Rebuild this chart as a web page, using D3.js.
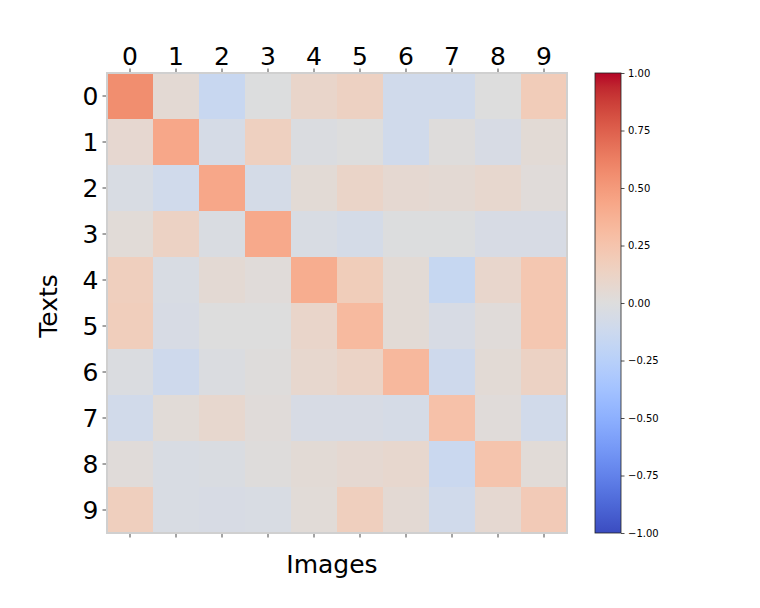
<!DOCTYPE html>
<html>
<head>
<meta charset="utf-8">
<script src="https://cdn.jsdelivr.net/npm/d3@7"></script>
<style>
  html, body { margin: 0; padding: 0; background: #fff; }
  svg { display: block; font-family: "DejaVu Sans", sans-serif; }
</style>
</head>
<body>
<svg id="chart" width="760" height="608"></svg>
<script>
// ---- data ----
const images = ["0","1","2","3","4","5","6","7","8","9"];
const texts  = ["0","1","2","3","4","5","6","7","8","9"];
const row0 = [ 0.56,  0.05, -0.15, -0.01,  0.10,  0.14, -0.10, -0.10,  0.00,  0.19];
const row1 = [ 0.07,  0.43, -0.06,  0.15, -0.02,  0.00, -0.10,  0.01, -0.05,  0.04];
const row2 = [-0.04, -0.10,  0.43, -0.07,  0.04,  0.11,  0.06,  0.05,  0.08,  0.02];
const row3 = [ 0.03,  0.13, -0.03,  0.42, -0.04, -0.07, -0.01, -0.01, -0.05, -0.05];
const row4 = [ 0.16, -0.04,  0.05,  0.02,  0.40,  0.18,  0.04, -0.16,  0.09,  0.23];
const row5 = [ 0.17, -0.05,  0.00,  0.00,  0.10,  0.32,  0.04, -0.05,  0.02,  0.23];
const row6 = [-0.02, -0.11, -0.02,  0.01,  0.08,  0.12,  0.33, -0.11,  0.04,  0.13];
const row7 = [-0.09,  0.03,  0.08,  0.02, -0.05, -0.05, -0.06,  0.27,  0.02, -0.09];
const row8 = [ 0.02, -0.04, -0.03,  0.01,  0.04,  0.06,  0.08, -0.14,  0.25,  0.03];
const row9 = [ 0.16, -0.04, -0.05, -0.04,  0.03,  0.16,  0.05, -0.10,  0.06,  0.20];
const values = [row0,row1,row2,row3,row4,row5,row6,row7,row8,row9];
const cbarTicks = [1.00, 0.75, 0.50, 0.25, 0.00, -0.25, -0.50, -0.75, -1.00];

// matplotlib "coolwarm" colormap samples
const coolwarm = [
  [59,76,192],[68,90,204],[77,104,215],[87,117,225],[98,130,234],[108,142,241],
  [119,154,247],[130,165,251],[141,176,254],[152,185,255],[163,194,255],[174,201,253],
  [184,208,249],[194,213,244],[204,217,238],[213,219,230],[221,221,221],[229,216,209],
  [236,211,197],[241,204,185],[245,196,173],[247,187,160],[247,177,148],[247,166,135],
  [244,154,123],[241,141,111],[236,127,99],[229,112,88],[222,96,77],[213,80,66],
  [203,62,56],[192,40,47],[180,4,38]
];
const cmDomain = coolwarm.map((_, i) => -1 + 2 * i / (coolwarm.length - 1));
const color = d3.scaleLinear()
  .domain(cmDomain)
  .range(coolwarm.map(c => `rgb(${c[0]},${c[1]},${c[2]})`))
  .interpolate(d3.interpolateRgb)
  .clamp(true);

// ---- layout ----
const svg = d3.select("#chart");
const L = 107, T = 73, S = 460;
const x = d3.scaleBand().domain(images).range([L, L + S]);
const y = d3.scaleBand().domain(texts).range([T, T + S]);

const cells = [];
values.forEach((r, i) => r.forEach((v, j) => cells.push({ r: texts[i], c: images[j], v })));

svg.append("g").selectAll("rect").data(cells).join("rect")
  .attr("x", d => x(d.c))
  .attr("y", d => y(d.r))
  .attr("width", x.bandwidth() + 0.5)
  .attr("height", y.bandwidth() + 0.5)
  .attr("fill", d => color(d.v));

// frame
svg.append("rect")
  .attr("x", L).attr("y", T).attr("width", S).attr("height", S)
  .attr("fill", "none").attr("stroke", "#d0d0d0").attr("stroke-width", 2);

// axes
function styleAxis(g, size) {
  g.select(".domain").remove();
  g.selectAll(".tick line").attr("stroke", "#333").attr("stroke-width", 0.9);
  g.selectAll(".tick text").attr("font-size", size).attr("fill", "#000")
    .attr("font-family", "DejaVu Sans, sans-serif");
}
svg.append("g").attr("transform", `translate(0,${T - 1})`)
  .call(d3.axisTop(x).tickSize(3.5).tickPadding(3.5))
  .call(g => styleAxis(g, 25));
svg.append("g").attr("transform", `translate(0,${T + S + 1})`)
  .call(d3.axisBottom(x).tickSize(3.5).tickFormat(""))
  .call(g => styleAxis(g, 25));
svg.append("g").attr("transform", `translate(${L - 1},0)`)
  .call(d3.axisLeft(y).tickSize(3.5).tickPadding(4))
  .call(g => styleAxis(g, 25))
  .call(g => g.selectAll(".tick text").attr("dy", "0.36em"));

// axis labels
svg.append("text")
  .attr("x", 332).attr("y", 573)
  .attr("text-anchor", "middle").attr("font-size", 25).text("Images");
svg.append("text")
  .attr("transform", `translate(57,306) rotate(-90)`)
  .attr("text-anchor", "middle").attr("font-size", 25).text("Texts");

// colorbar
const CX = 595, CW = 26;
const cy = d3.scaleLinear().domain([-1, 1]).range([T + S, T]);
const grad = svg.append("defs").append("linearGradient")
  .attr("id", "cw").attr("x1", 0).attr("y1", 1).attr("x2", 0).attr("y2", 0);
grad.selectAll("stop").data(cmDomain).join("stop")
  .attr("offset", d => (d + 1) / 2)
  .attr("stop-color", d => color(d));
svg.append("rect")
  .attr("x", CX).attr("y", T).attr("width", CW).attr("height", S)
  .attr("fill", "url(#cw)").attr("stroke", "#222").attr("stroke-width", 0.8);
svg.append("g").attr("transform", `translate(${CX + CW},0)`)
  .call(d3.axisRight(cy).tickValues(cbarTicks).tickFormat(d3.format(".2f")).tickSize(3.5).tickPadding(3.5))
  .call(g => {
    g.select(".domain").remove();
    g.selectAll(".tick line").attr("stroke", "#222").attr("stroke-width", 0.8);
    g.selectAll(".tick text").attr("font-size", 10).attr("fill", "#000")
      .attr("font-family", "DejaVu Sans, sans-serif");
  });
</script>
</body>
</html>
